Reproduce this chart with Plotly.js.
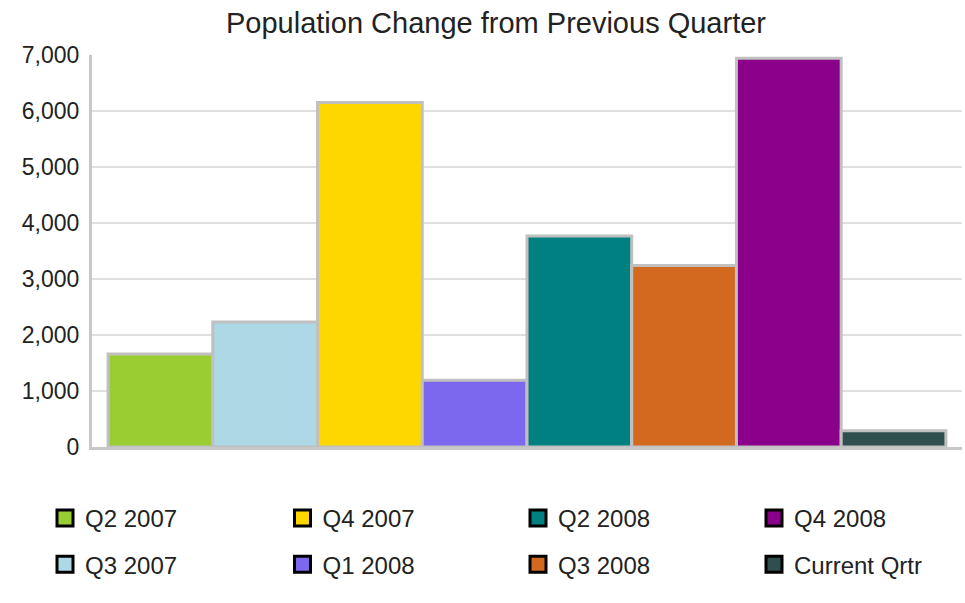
<!DOCTYPE html>
<html>
<head>
<meta charset="utf-8">
<script src="https://cdn.plot.ly/plotly-3.0.1.min.js"></script>
<style>
  html, body { margin: 0; padding: 0; background: #ffffff; }
  #chart { width: 965px; height: 603px; }
</style>
</head>
<body>
<div id="chart"></div>
<script>
// ---- Data ----
const categories = ['Population Change'];
const seriesNames = ['Q2 2007', 'Q3 2007', 'Q4 2007', 'Q1 2008', 'Q2 2008', 'Q3 2008', 'Q4 2008', 'Current Qrtr'];
const seriesValues = [1660, 2230, 6150, 1190, 3770, 3240, 6940, 290];
const seriesColors = ['#9ACD32', '#ADD8E6', '#FFD700', '#7B68EE', '#008080', '#D2691E', '#8B008B', '#2F4F4F'];
const yTickValues = [0, 1000, 2000, 3000, 4000, 5000, 6000, 7000];

// ---- Style ----
const FONT = 'Liberation Sans, Arial, Helvetica, sans-serif';
const legendIds = ['legend', 'legend2', 'legend3', 'legend4'];
const legendLefts = [45, 282.5, 518, 754];

const traces = [];
seriesNames.forEach((name, i) => {
  traces.push({
    type: 'bar',
    x: categories,
    y: [seriesValues[i]],
    name: name,
    showlegend: false,
    marker: { color: seriesColors[i], line: { color: '#c0c0c0', width: 3 } },
    hovertemplate: name + ': %{y:,}<extra></extra>'
  });
});
// legend entries (square swatches with black border)
seriesNames.forEach((name, i) => {
  traces.push({
    type: 'scatter',
    mode: 'markers',
    x: [null],
    y: [null],
    name: name,
    legend: legendIds[Math.floor(i / 2)],
    legendgroup: 'g' + i,
    marker: { symbol: 'square', size: 16, color: seriesColors[i], line: { color: '#000000', width: 3 } },
    hoverinfo: 'skip'
  });
});

const legendBase = {
  orientation: 'v',
  xref: 'container', yref: 'container',
  xanchor: 'left', yanchor: 'top',
  y: 1 - 496 / 603,
  bgcolor: 'rgba(0,0,0,0)',
  borderwidth: 0,
  tracegroupgap: 12,
  font: { family: FONT, size: 24, color: '#222222' }
};

const layout = {
  width: 965,
  height: 603,
  margin: { l: 92, r: 3, t: 55, b: 156, pad: 0, autoexpand: false },
  paper_bgcolor: '#ffffff',
  plot_bgcolor: '#ffffff',
  font: { family: FONT, color: '#222222' },
  title: {
    text: 'Population Change from Previous Quarter',
    font: { family: FONT, size: 29, color: '#222222' },
    x: 496 / 965, xref: 'container', xanchor: 'center',
    y: 1 - 23 / 603, yref: 'container', yanchor: 'middle'
  },
  barmode: 'group',
  bargap: 0.037,
  bargroupgap: 0,
  xaxis: {
    type: 'category',
    range: [-0.5, 0.5],
    showticklabels: false,
    ticks: '',
    showgrid: false,
    zeroline: false,
    showline: true,
    linecolor: '#c8c8c8',
    linewidth: 3,
    fixedrange: true
  },
  yaxis: {
    range: [0, 7000],
    tickvals: yTickValues,
    tickformat: ',d',
    ticks: '',
    ticklabelstandoff: 5,
    tickfont: { family: FONT, size: 23, color: '#222222' },
    showgrid: true,
    gridcolor: '#e0e0e0',
    gridwidth: 2,
    zeroline: false,
    showline: true,
    linecolor: '#c8c8c8',
    linewidth: 3,
    fixedrange: true
  }
};
legendIds.forEach((id, c) => {
  layout[id] = Object.assign({}, legendBase, { x: legendLefts[c] / 965 });
});

Plotly.newPlot('chart', traces, layout, { displayModeBar: false, responsive: false });
</script>
</body>
</html>
